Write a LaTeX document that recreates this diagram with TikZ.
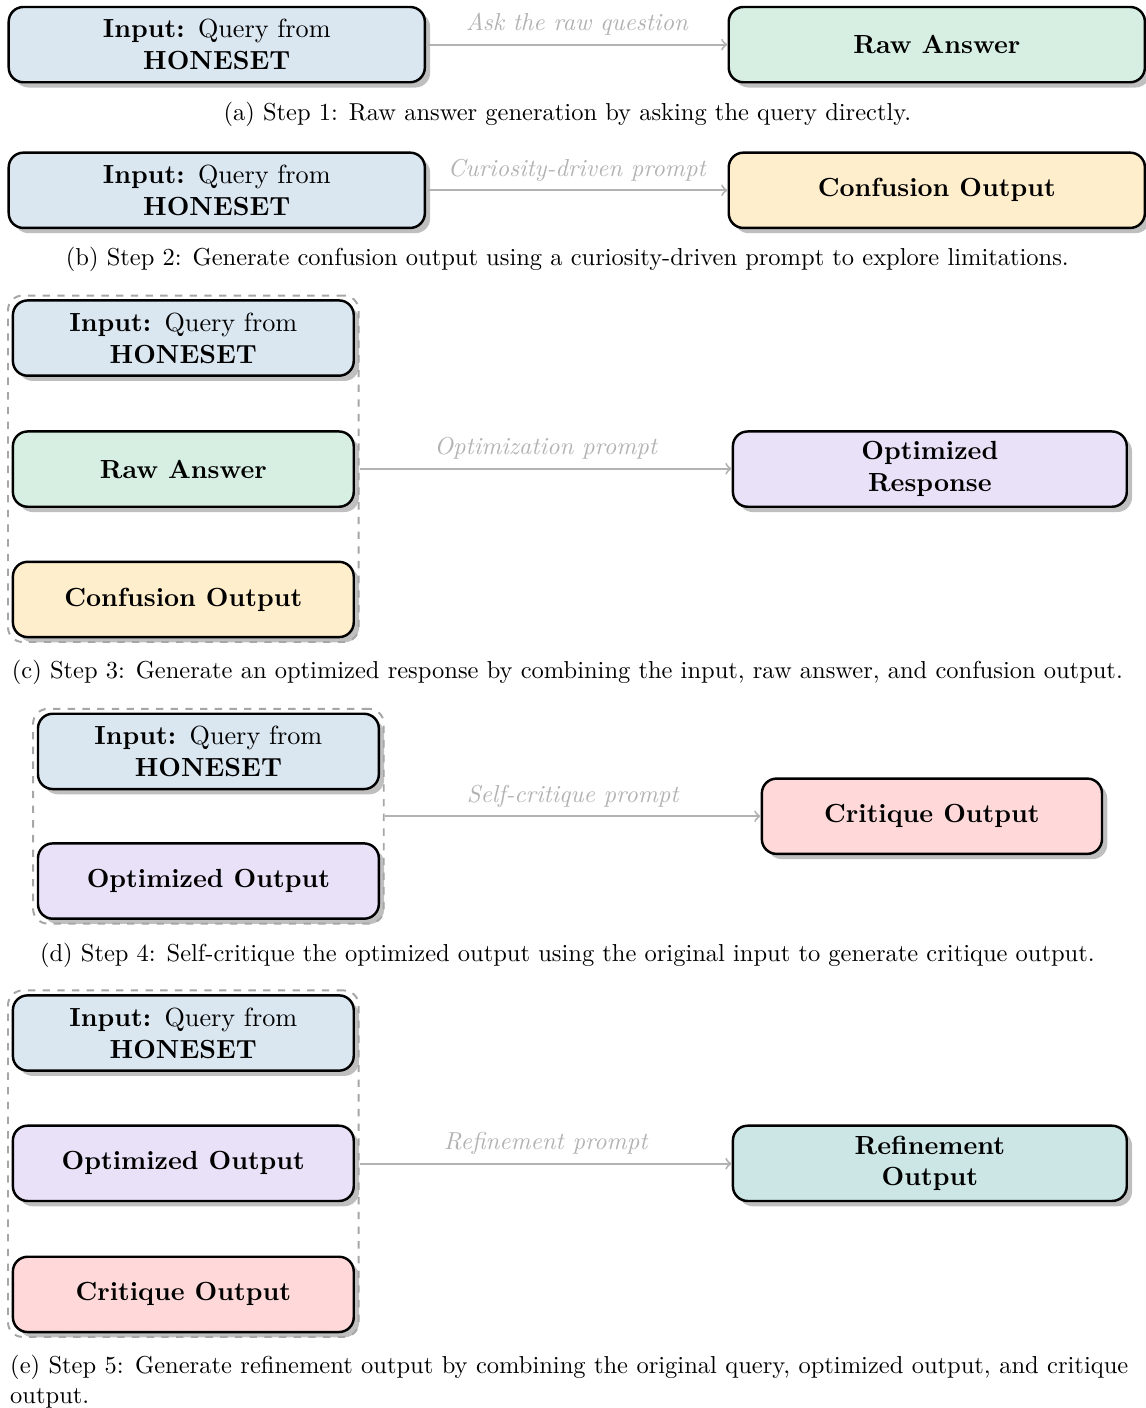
\documentclass[tikz,border=0pt]{standalone}
\usepackage{amsmath}
\usepackage{tikz}
\usetikzlibrary{shapes.geometric, arrows, shadows, fit}
\definecolor{inblue}{HTML}{DAE6F0}
\definecolor{rawgreen}{HTML}{D6EFE2}
\definecolor{confyellow}{HTML}{FFEECC}
\definecolor{optpurple}{HTML}{E8E1F7}
\definecolor{critred}{HTML}{FFD9D9}
\definecolor{refteal}{HTML}{CCE6E6}
\tikzstyle{box} = [rectangle, rounded corners=6pt, draw=black, line width=1pt, minimum height=1.08cm, align=center, drop shadow, font=\fontsize{10.7}{13}\selectfont\bfseries]
\tikzstyle{arrow} = [thick,->,draw=gray!60]
\tikzstyle{prompt} = [font=\itshape, text=gray!60]
\tikzstyle{group} = [draw=gray!70, dashed, rounded corners=6pt, line width=0.8pt, inner sep=1.5pt]
\tikzstyle{caption} = [anchor=base, inner sep=0pt]

\begin{document}
\begin{tikzpicture}
\useasboundingbox (0,0) rectangle (16.43,-20.20);
% step 1
\node[box, fill=inblue, minimum width=5.97cm] (in1) at (3.11,-0.64) {Input: {\mdseries Query from}\\ HONESET};
\node[box, fill=rawgreen, minimum width=5.97cm] (raw1) at (13.44,-0.64) {Raw Answer};
\draw[arrow] (in1) -- node[prompt, above] {Ask the raw question} (raw1);
\node[caption] (cap1) at (8.14,-1.73) {(a) Step 1: Raw answer generation by asking the query directly.};

% step 2
\node[box, fill=inblue, minimum width=5.97cm] (in2) at (3.11,-2.73) {Input: {\mdseries Query from}\\ HONESET};
\node[box, fill=confyellow, minimum width=5.97cm] (conf2) at (13.44,-2.73) {Confusion Output};
\draw[arrow] (in2) -- node[prompt, above] {Curiosity-driven prompt} (conf2);
\node[caption] (cap2) at (8.14,-3.81) {(b) Step 2: Generate confusion output using a curiosity-driven prompt to explore limitations.};

% step 3
\node[box, fill=inblue, minimum width=4.89cm] (in3) at (2.63,-4.85) {Input: {\mdseries Query from}\\ HONESET};
\node[box, fill=rawgreen, minimum width=4.89cm] (raw3) at (2.63,-6.73) {Raw Answer};
\node[box, fill=confyellow, minimum width=4.89cm] (conf3) at (2.63,-8.60) {Confusion Output};
\node[group, fit=(in3)(raw3)(conf3)] (grp3) {};
\node[box, fill=optpurple, minimum width=5.65cm] (opt3) at (13.34,-6.73) {Optimized\\ Response};
\draw[arrow] (grp3.east) -- node[prompt, above] {Optimization prompt} (grp3.east -| opt3.west);
\node[caption] (cap3) at (8.14,-9.73) {(c) Step 3: Generate an optimized response by combining the input, raw answer, and confusion output.};

% step 4
\node[box, fill=inblue, minimum width=4.89cm] (in4) at (2.99,-10.78) {Input: {\mdseries Query from}\\ HONESET};
\node[box, fill=optpurple, minimum width=4.89cm] (opt4) at (2.99,-12.64) {Optimized Output};
\node[group, fit=(in4)(opt4)] (grp4) {};
\node[box, fill=critred, minimum width=4.88cm] (crit4) at (13.37,-11.71) {Critique Output};
\draw[arrow] (grp4.east) -- node[prompt, above] {Self-critique prompt} (grp4.east -| crit4.west);
\node[caption] (cap4) at (8.14,-13.79) {(d) Step 4: Self-critique the optimized output using the original input to generate critique output.};

% step 5
\node[box, fill=inblue, minimum width=4.89cm] (in5) at (2.63,-14.82) {Input: {\mdseries Query from}\\ HONESET};
\node[box, fill=optpurple, minimum width=4.89cm] (opt5) at (2.63,-16.69) {Optimized Output};
\node[box, fill=critred, minimum width=4.89cm] (crit5) at (2.63,-18.57) {Critique Output};
\node[group, fit=(in5)(opt5)(crit5)] (grp5) {};
\node[box, fill=refteal, minimum width=5.65cm] (ref5) at (13.34,-16.69) {Refinement\\ Output};
\draw[arrow] (grp5.east) -- node[prompt, above] {Refinement prompt} (grp5.east -| ref5.west);
\node[anchor=north west, inner sep=0pt, text width=16.04cm, align=justify] (cap5) at (0.14,-19.44) {(e) Step 5: Generate refinement output by combining the original query, optimized output, and critique output.};
\end{tikzpicture}
\end{document}
